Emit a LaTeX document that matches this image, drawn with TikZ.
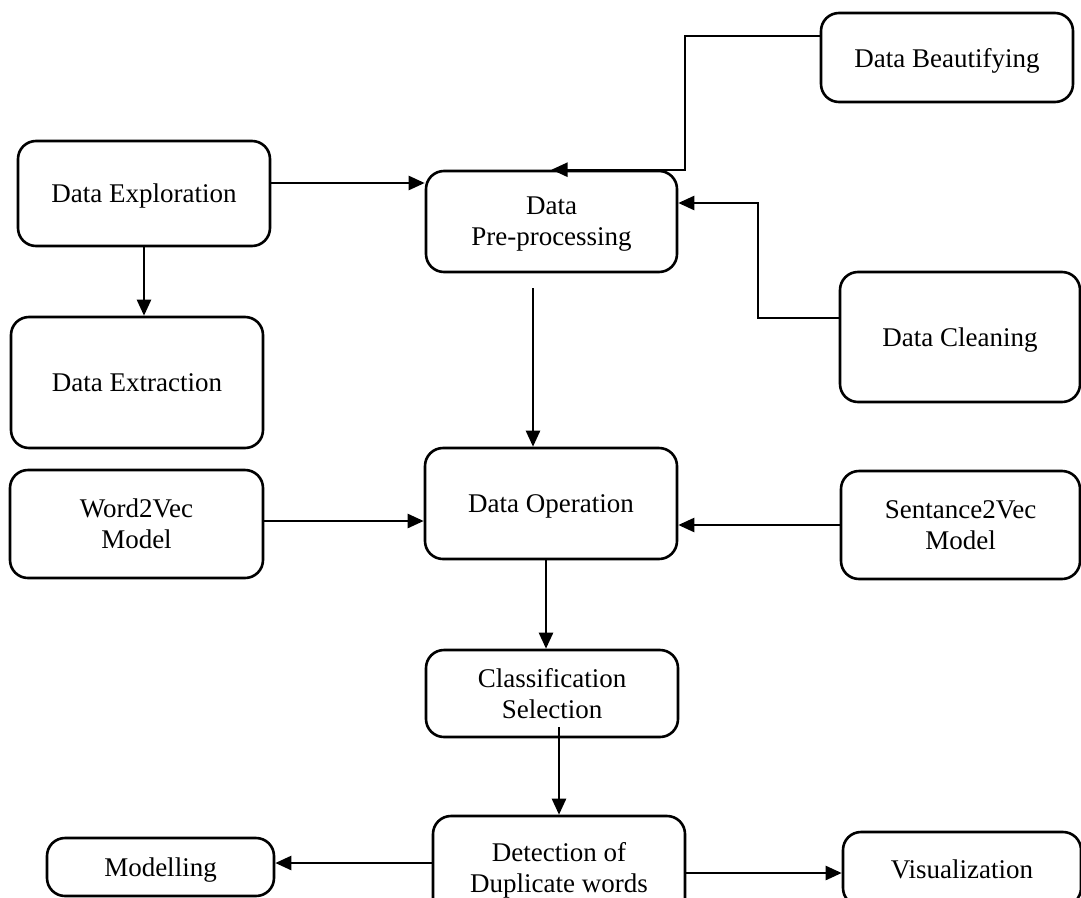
\documentclass[tikz,border=0pt]{standalone}
\usepackage{fontspec}
\setmainfont{Liberation Serif}
\usetikzlibrary{arrows.meta}
\begin{document}
\begin{tikzpicture}[x=1pt,y=-1pt,
  box/.style={draw, line width=2.6pt, rounded corners=18pt, align=center,
    inner sep=0pt, text depth=0pt, font=\fontsize{27}{31}\selectfont},
  arr/.style={line width=2.4pt, -{Triangle[length=16pt,width=14pt]}}]
\useasboundingbox (0,0) rectangle (1081,897);
\clip (0,0) rectangle (1081,897);
\node[box, minimum width=252pt, minimum height=89pt] (beaut) at (947,57.5) {Data Beautifying};
\node[box, minimum width=252pt, minimum height=105pt] (explo) at (144,193.5) {Data Exploration};
\node[box, minimum width=251pt, minimum height=101pt] (prep) at (551.5,221.5) {Data\\Pre-processing};
\node[box, minimum width=240pt, minimum height=130pt] (clean) at (960,337) {Data Cleaning};
\node[box, minimum width=252pt, minimum height=131pt] (extr) at (137,382.5) {Data Extraction};
\node[box, minimum width=252pt, minimum height=111pt] (oper) at (551,503.5) {Data Operation};
\node[box, minimum width=253pt, minimum height=108pt] (word) at (136.5,524) {Word2Vec\\Model};
\node[box, minimum width=239pt, minimum height=108pt] (sent) at (960.5,525) {Sentance2Vec\\Model};
\node[box, minimum width=252pt, minimum height=87pt] (clas) at (552,693.5) {Classification\\Selection};
\node[box, minimum width=252pt, minimum height=102pt] (detect) at (559,867) {Detection of\\Duplicate words};
\node[box, minimum width=227pt, minimum height=58pt] (model) at (160.5,867) {Modelling};
\node[box, minimum width=238pt, minimum height=74pt] (visu) at (962,869) {Visualization};
% coordinates for bends and free ends
\coordinate (b1) at (685,36);
\coordinate (c1) at (758,318);
\coordinate (c2) at (758,203);
\coordinate (p1) at (533,288);
\coordinate (k1) at (559,727);
\coordinate (m1) at (0,863);
\coordinate (v1) at (0,873);
% connectors
\draw[arr] ([yshift=10.5pt]explo.east) -- ([yshift=10.5pt]explo.east -| prep.west);
\draw[arr] (explo.south) -- (explo.south |- extr.north);
\draw[arr] (b1 -| beaut.west) -- (b1) -- (b1 |- prep.north) -- (prep.north);
\draw[arr] (c1 -| clean.west) -- (c1) -- (c2) -- (c2 -| prep.east);
\draw[arr] (p1) -- (p1 |- oper.north);
\draw[arr] ([yshift=3pt]word.east) -- ([yshift=3pt]word.east -| oper.west);
\draw[arr] (sent.west) -- (sent.west -| oper.east);
\draw[arr] ([xshift=-5pt]oper.south) -- ([xshift=-5pt]oper.south |- clas.north);
\draw[arr] (k1) -- (k1 |- detect.north);
\draw[arr] (m1 -| detect.west) -- (m1 -| model.east);
\draw[arr] (v1 -| detect.east) -- (v1 -| visu.west);
\end{tikzpicture}
\end{document}
